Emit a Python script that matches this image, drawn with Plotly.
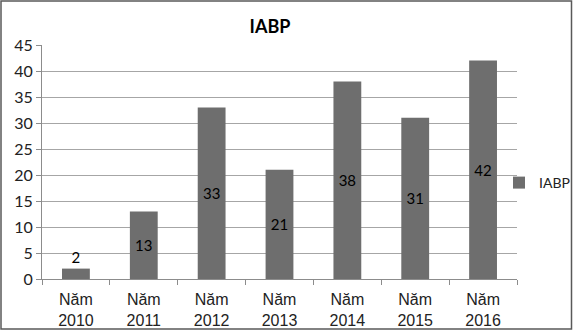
import plotly.graph_objects as go

categories = ["Năm<br>2010", "Năm<br>2011", "Năm<br>2012", "Năm<br>2013", "Năm<br>2014", "Năm<br>2015", "Năm<br>2016"]
values = [2, 13, 33, 21, 38, 31, 42]
series_name = "IABP"
y_ticks = [0, 5, 10, 15, 20, 25, 30, 35, 40, 45]

W, H = 573, 331
L, R, T, B = 42, 56, 45, 52
PW, PH = W - L - R, H - T - B

label_font = dict(family="Lato, Open Sans, sans-serif", size=15, color="#000000")

fig = go.Figure()
fig.add_trace(go.Bar(
    x=categories, y=values, name=series_name,
    marker=dict(color="#6e6e6e", line=dict(width=0)),
    text=[str(v) for v in values],
    textposition="auto",
    insidetextanchor="middle",
    textfont=label_font,
    outsidetextfont=label_font,
    insidetextfont=label_font,
    cliponaxis=False,
    showlegend=True,
))

fig.update_layout(
    width=W, height=H,
    margin=dict(l=L, r=R, t=T, b=B, pad=0, autoexpand=False),
    paper_bgcolor="white", plot_bgcolor="white",
    bargap=0.59,
    title=dict(text="<b>IABP</b>", x=270 / W, xanchor="center", y=1 - 27 / H, yanchor="middle",
               font=dict(family="Lato, Open Sans, sans-serif", size=18, color="#000000")),
    showlegend=True,
    legend=dict(xref="container", yref="container",
                x=499 / W, xanchor="left", y=1 - 183 / H, yanchor="middle",
                font=dict(family="Lato, Open Sans, sans-serif", size=14, color="#222222"),
                bgcolor="rgba(0,0,0,0)", itemwidth=30),
    xaxis=dict(
        showline=True, linecolor="#8c8c8c", linewidth=1,
        ticks="outside", tickson="boundaries", ticklen=5, tickcolor="#8c8c8c",
        showgrid=False,
        ticklabelstandoff=6,
        tickfont=dict(family="Liberation Sans, Arial, sans-serif", size=16, color="#222222"),
    ),
    yaxis=dict(
        range=[0, 45], tickvals=y_ticks,
        showline=True, linecolor="#8c8c8c", linewidth=1,
        ticks="outside", ticklen=5, tickcolor="#8c8c8c",
        showgrid=True, gridcolor="#a6a6a6", gridwidth=1,
        zeroline=False,
        tickfont=dict(family="Lato, Open Sans, sans-serif", size=16, color="#222222"),
    ),
)

fig.add_shape(type="rect", xref="paper", yref="paper",
              x0=-(L - 1) / PW, x1=1 + (R - 1.5) / PW,
              y0=-(B - 2) / PH, y1=1 + (T - 1) / PH,
              line=dict(color="#595959", width=1.5), fillcolor="rgba(0,0,0,0)", layer="above")

fig.write_html("out.html")
